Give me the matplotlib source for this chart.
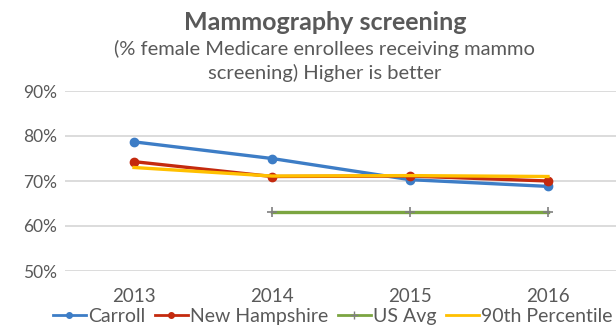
import matplotlib.pyplot as plt
from matplotlib.lines import Line2D

plt.rcParams['font.family'] = ['Lato', 'DejaVu Sans']

years = ['2013', '2014', '2015', '2016']
carroll = [78.7, 75.0, 70.3, 68.8]
new_hampshire = [74.3, 71.0, 71.1, 70.0]
us_avg = [float('nan'), 63.2, 63.2, 63.2]
pct90 = [73.0, 71.1, 71.2, 71.0]

grey = '#595959'
c_blue, c_red, c_green, c_yellow = '#3D7DC6', '#C42A0E', '#7BA541', '#FFC000'

fig = plt.figure(figsize=(6.16, 3.30), dpi=100)
ax = fig.add_axes([65 / 616, 59 / 330, 552 / 616, 180 / 330])

x = range(len(years))
ax.plot(x, carroll, color=c_blue, lw=2.4, marker='o', ms=6, zorder=3)
ax.plot(x, new_hampshire, color=c_red, lw=2.4, marker='o', ms=6, zorder=4)
ax.plot(x, us_avg, color=c_green, lw=2.4, marker='+', ms=7, mec='#7F7F7F', mew=1.2, zorder=3)
ax.plot(x, pct90, color=c_yellow, lw=2.4, zorder=5)

ax.set_xlim(-0.5, 3.5)
ax.set_ylim(50, 90)
ax.set_yticks([50, 60, 70, 80, 90])
ax.set_yticklabels([f'{v}%' for v in [50, 60, 70, 80, 90]])
ax.set_xticks(list(x))
ax.set_xticklabels(years)
ax.grid(axis='y', color='#D9D9D9', lw=1.3)
ax.set_axisbelow(True)
for s in ax.spines.values():
    s.set_visible(False)
ax.tick_params(length=0, labelsize=12.5, colors=grey, pad=6)
ax.tick_params(axis='x', labelsize=13.5, pad=12)

fig.text(0.528, 0.932, 'Mammography screening', ha='center', va='center',
         fontsize=18, fontweight='bold', color=grey)
fig.text(0.527, 0.852, '(% female Medicare enrollees receiving mammo', ha='center',
         va='center', fontsize=14.5, color=grey)
fig.text(0.527, 0.778, 'screening) Higher is better', ha='center', va='center',
         fontsize=14.5, color=grey)

# legend handles drawn with smaller markers
handles = [
    Line2D([], [], color=c_blue, lw=2, marker='o', ms=4),
    Line2D([], [], color=c_red, lw=2, marker='o', ms=4),
    Line2D([], [], color=c_green, lw=2, marker='+', ms=6, mec='#7F7F7F', mew=1),
    Line2D([], [], color=c_yellow, lw=2),
]
labels = ['Carroll', 'New Hampshire', 'US Avg', '90th Percentile']
fig.legend(handles, labels, loc='center', bbox_to_anchor=(0.54, 0.042), ncol=4,
           frameon=False, fontsize=14, handlelength=1.7, handletextpad=0.1,
           columnspacing=0.5, labelcolor=grey, borderaxespad=0, borderpad=0)

fig.savefig('out.png', dpi=100, facecolor='white')
